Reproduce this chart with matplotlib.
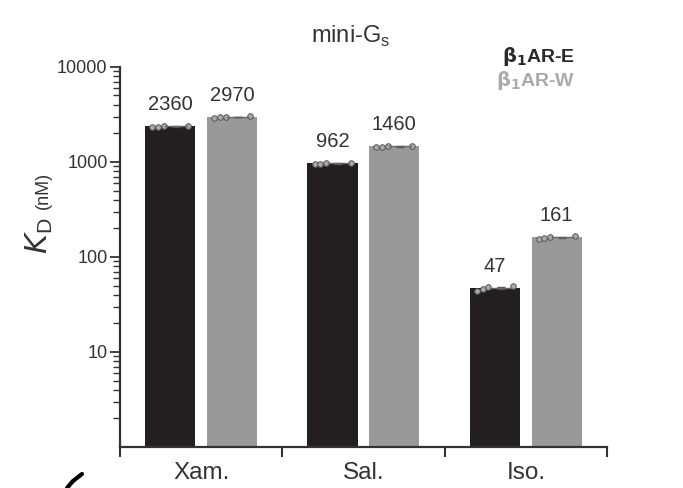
"""KD de mini-Gs para beta1AR-E e beta1AR-W com tres agonistas."""

import matplotlib.pyplot as plt
from matplotlib.lines import Line2D
import numpy as np

plt.rcParams["font.family"] = ["Liberation Sans", "DejaVu Sans"]

ligantes = ["Xam.", "Sal.", "Iso."]
kd_e = [2360, 962, 47]
kd_w = [2970, 1460, 161]
rotulos_e = ["2360", "962", "47"]
rotulos_w = ["2970", "1460", "161"]
# medidas individuais (estimadas da figura)
pontos_e = [[2330, 2350, 2380, 2400], [950, 960, 965, 975], [44, 46, 48, 50]]
pontos_w = [[2920, 2950, 3000, 3010], [1440, 1450, 1470, 1480], [155, 158, 163, 168]]

cor_e = "#231f20"
cor_w = "#999999"
cor_eixo = "#333333"


def main() -> None:
    fig = plt.figure(figsize=(6.83, 4.88), dpi=100)
    ax = fig.add_axes([0.1757, 0.084, 0.713, 0.779])

    x = np.arange(len(ligantes))
    largura = 0.31
    desloc = 0.19
    ax.bar(x - desloc, kd_e, largura, color=cor_e, zorder=2)
    ax.bar(x + desloc, kd_w, largura, color=cor_w, zorder=2)

    offs = np.array([-0.11, -0.075, -0.04, 0.11])
    for i in range(len(ligantes)):
        for centro, pts, media in [(x[i] - desloc, pontos_e[i], kd_e[i]),
                                   (x[i] + desloc, pontos_w[i], kd_w[i])]:
            pts = np.array(pts)
            ax.scatter(centro + offs, pts, s=16, facecolor="#aaaaaa",
                       edgecolor="#555555", linewidth=0.7, zorder=3)
            sem = pts.std(ddof=1) / np.sqrt(len(pts))
            ax.errorbar(centro + 0.035, media, yerr=sem, fmt="none",
                        ecolor="#555555", elinewidth=0.8, capsize=3, zorder=3)
            ax.plot([centro - 0.03, centro + 0.1], [media, media],
                    color="#666666", lw=1.0, zorder=3)

    for i in range(len(ligantes)):
        ax.text(x[i] - desloc, kd_e[i] * 1.35, rotulos_e[i], ha="center",
                va="bottom", fontsize=14.5, color="#333333")
        ax.text(x[i] + desloc, kd_w[i] * 1.35, rotulos_w[i], ha="center",
                va="bottom", fontsize=14.5, color="#333333")

    ax.set_yscale("log")
    ax.set_ylim(1, 10000)
    ax.set_xlim(-0.5, 2.5)
    ax.set_yticks([10, 100, 1000, 10000])
    ax.set_yticklabels(["10", "100", "1000", "10000"])
    ax.yaxis.set_minor_formatter(plt.NullFormatter())

    ax.set_xticks([-0.5, 0.5, 1.5, 2.5])
    ax.set_xticklabels([])
    ax.set_xticks(x, minor=True)
    ax.set_xticklabels(ligantes, minor=True, fontsize=17.5, color="#333333")
    ax.tick_params(axis="x", which="minor", length=0, pad=11)
    ax.tick_params(axis="x", which="major", length=7, width=1.5,
                   color=cor_eixo, direction="out")
    ax.tick_params(axis="y", which="major", length=7, width=1.3,
                   color=cor_eixo, labelsize=13, labelcolor="#333333", pad=2)
    ax.tick_params(axis="y", which="minor", length=5, width=1.0,
                   color=cor_eixo)

    for lado in ["top", "right"]:
        ax.spines[lado].set_visible(False)
    for lado in ["left", "bottom"]:
        ax.spines[lado].set_linewidth(1.6)
        ax.spines[lado].set_color(cor_eixo)

    # titulo, legenda em texto e rotulo do eixo y
    fig.text(351 / 683, 1 - 43 / 488, r"mini-G$_\mathregular{s}$", ha="center",
             va="baseline", fontsize=17, color="#333333")
    fig.text(575 / 683, 1 - 62 / 488, r"$\mathbf{\beta}_\mathbf{1}$AR-E",
             ha="right", va="baseline", fontsize=14, fontweight="bold",
             color="#2a2a2a")
    fig.text(575 / 683, 1 - 86 / 488, r"$\mathbf{\beta}_\mathbf{1}$AR-W",
             ha="right", va="baseline", fontsize=14, fontweight="bold",
             color="#aaaaaa")
    fig.text(39 / 683, 1 - 236 / 488, r"$K_\mathregular{D}$", rotation=90,
             ha="center", va="center", fontsize=22, color="#333333")
    fig.text(43 / 683, 1 - 190 / 488, "(nM)", rotation=90,
             ha="center", va="center", fontsize=13, color="#333333")

    # traco solto no canto inferior esquerdo
    fig.add_artist(Line2D([67 / 683, 73 / 683, 82 / 683],
                          [0.0, 1 - 481 / 488, 1 - 474 / 488],
                          color="black", lw=3, solid_capstyle="round"))

    fig.savefig("out.png", dpi=100)
    plt.close(fig)


if __name__ == "__main__":
    main()
